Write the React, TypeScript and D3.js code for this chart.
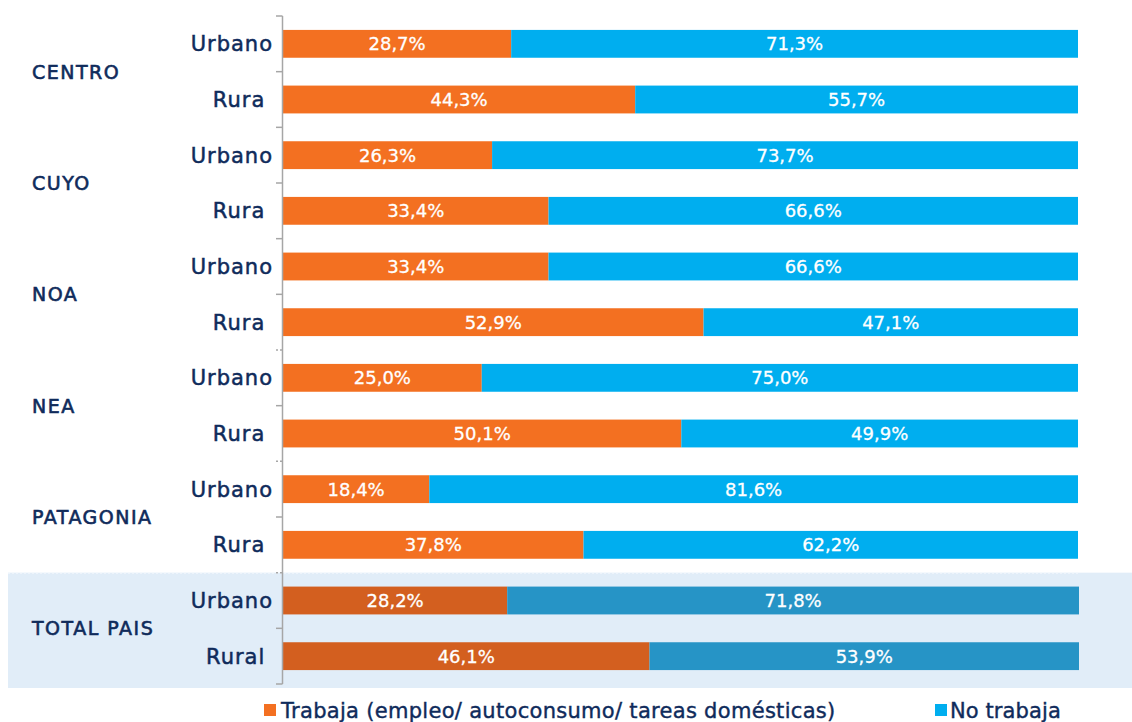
import React from "react";
import * as d3 from "d3";

const groups = ["CENTRO", "CUYO", "NOA", "NEA", "PATAGONIA", "TOTAL PAIS"];
const rowLabels = [
  ["Urbano", "Rura\u00A0"],
  ["Urbano", "Rura\u00A0"],
  ["Urbano", "Rura\u00A0"],
  ["Urbano", "Rura\u00A0"],
  ["Urbano", "Rura\u00A0"],
  ["Urbano", "Rural\u00A0"],
];
const trabaja = [28.7, 44.3, 26.3, 33.4, 33.4, 52.9, 25.0, 50.1, 18.4, 37.8, 28.2, 46.1];
const noTrabaja = [71.3, 55.7, 73.7, 66.6, 66.6, 47.1, 75.0, 49.9, 81.6, 62.2, 71.8, 53.9];
const legendLabels = ["Trabaja (empleo/ autoconsumo/ tareas domésticas)", "No trabaja"];

const W = 1132;
const H = 722;
const FONT = "'DejaVu Sans', sans-serif";
const NAVY = "#0f2b5b";
const ORANGE = "#f37021";
const BLUE = "#00aeef";
const ORANGE_D = "#d35f1f";
const BLUE_D = "#2694c6";

const fmt = (v: number) => v.toFixed(1).replace(".", ",") + "%";

export default function App() {
  const nRows = trabaja.length;
  const rowIdx = d3.range(nRows);
  const y = d3.scaleBand<number>().domain(rowIdx).range([16, 684]).paddingInner(0.5).paddingOuter(0.25);
  const step = y.step();
  const top = 16;
  const x = d3.scaleLinear().domain([0, 100]).range([283, 1078]);
  const totalStart = (groups.length - 1) * 2;
  const bandTop = top + step * totalStart;

  return (
    <svg width={W} height={H} style={{ position: "absolute", left: 0, top: 0 }}>
      <rect x={0} y={0} width={W} height={H} fill="#ffffff" />
      {/* Total band */}
      <rect x={8} y={bandTop} width={W - 8} height={688 - bandTop} fill="#e1edf8" />
      <line x1={8} x2={1078} y1={bandTop + 0.5} y2={bandTop + 0.5} stroke="#f4f8fc" strokeDasharray="2,2" />

      {/* Bars */}
      {rowIdx.map((i) => {
        const isTotal = i >= totalStart;
        const yy = y(i)!;
        const bh = y.bandwidth();
        const x0 = x(0);
        const x1 = x(trabaja[i]);
        const x2 = x(trabaja[i] + noTrabaja[i]) + (isTotal ? 1 : 0);
        return (
          <g key={i}>
            <rect x={x0} y={yy} width={x1 - x0} height={bh} fill={isTotal ? ORANGE_D : ORANGE} />
            <rect x={x1} y={yy} width={x2 - x1} height={bh} fill={isTotal ? BLUE_D : BLUE} />
            <text x={(x0 + x1) / 2} y={yy + bh / 2} dy="0.36em" textAnchor="middle" fill="#ffffff" stroke="#ffffff" strokeWidth={0.3} fontSize={18} fontFamily={FONT}>
              {fmt(trabaja[i])}
            </text>
            <text x={(x1 + x2) / 2} y={yy + bh / 2} dy="0.36em" textAnchor="middle" fill="#ffffff" stroke="#ffffff" strokeWidth={0.3} fontSize={18} fontFamily={FONT}>
              {fmt(noTrabaja[i])}
            </text>
          </g>
        );
      })}

      {/* Axis */}
      <line x1={282.5} x2={282.5} y1={top} y2={684} stroke="#a6a6a6" strokeWidth={1.5} />
      {d3.range(nRows + 1).map((k) => {
        const ty = top + k * step;
        const groupEdge = k % 2 === 0 && k > 0 && k < nRows;
        return (
          <line key={k} x1={276} x2={282.5} y1={ty} y2={ty} stroke="#a6a6a6" strokeWidth={1.5} strokeDasharray={groupEdge && k >= 6 ? "2,2" : undefined} />
        );
      })}

      {/* Row labels */}
      {rowIdx.map((i) => (
        <text key={i} x={273} y={y(i)! + y.bandwidth() / 2} dy="0.36em" textAnchor="end" fill={NAVY} stroke={NAVY} strokeWidth={0.5} fontSize={21} letterSpacing={1} fontFamily={FONT} style={{ whiteSpace: "pre" }}>
          {rowLabels[Math.floor(i / 2)][i % 2]}
        </text>
      ))}

      {/* Group labels */}
      {groups.map((g, gi) => (
        <text key={g} x={32} y={top + step * (gi * 2 + 1)} dy="0.36em" fill={NAVY} stroke={NAVY} strokeWidth={0.6} fontSize={19} fontFamily={FONT} letterSpacing={1.5}>
          {g}
        </text>
      ))}

      {/* Legend */}
      <rect x={264} y={704} width={12} height={12} fill={ORANGE} />
      <text x={281} y={718} fill={NAVY} stroke={NAVY} strokeWidth={0.4} fontSize={21} letterSpacing={0.3} fontFamily={FONT}>{legendLabels[0]}</text>
      <rect x={935} y={704} width={12} height={12} fill={BLUE} />
      <text x={950} y={718} fill={NAVY} stroke={NAVY} strokeWidth={0.4} fontSize={21} letterSpacing={0.1} fontFamily={FONT}>{legendLabels[1]}</text>
    </svg>
  );
}
